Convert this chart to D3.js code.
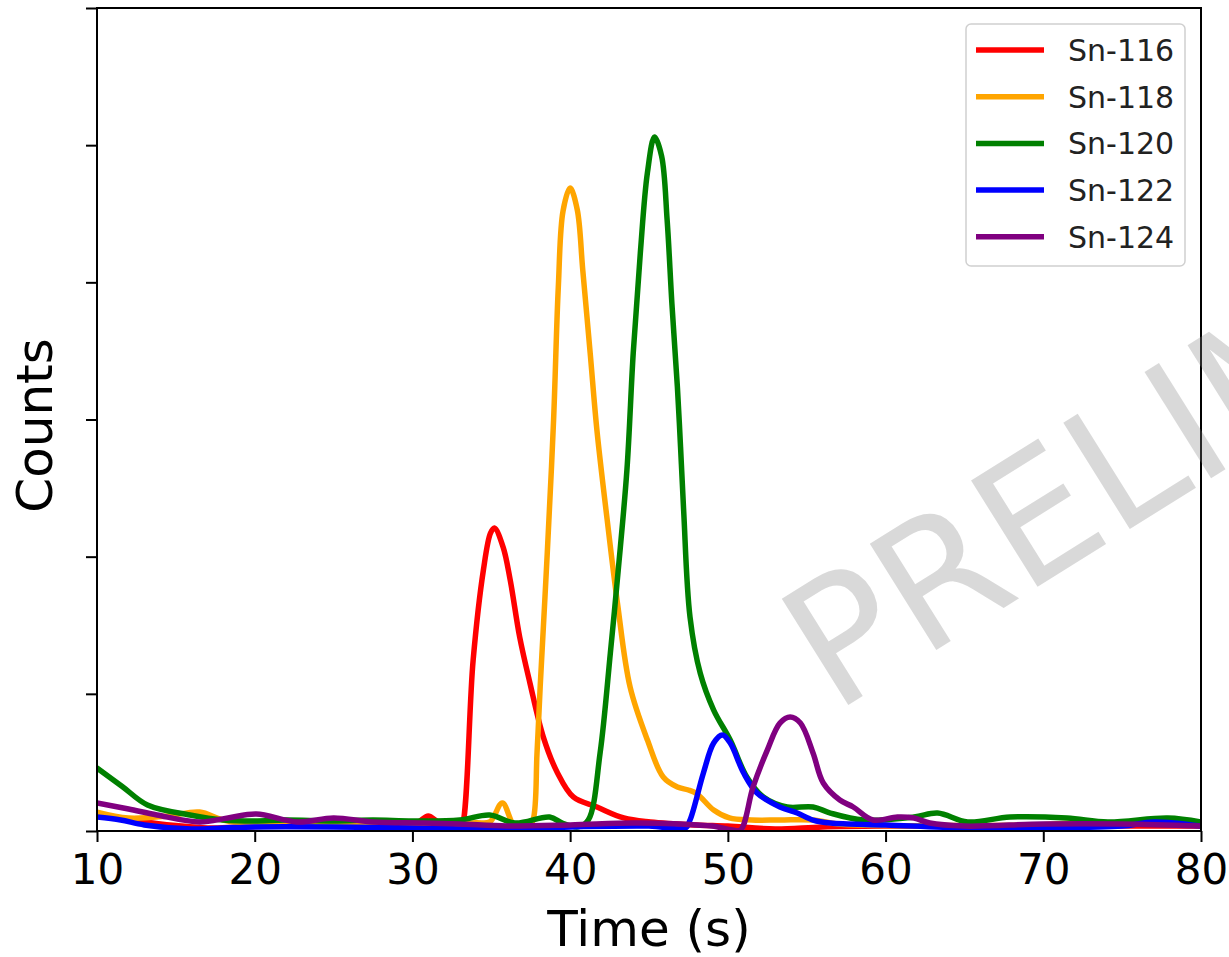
<!DOCTYPE html>
<html>
<head>
<meta charset="utf-8">
<script src="https://cdn.jsdelivr.net/npm/d3@7"></script>
<style>
  body { margin: 0; background: #fff; }
  svg { display: block; font-family: "DejaVu Sans", sans-serif; }
</style>
</head>
<body>
<svg id="chart" width="1229" height="957"></svg>
<script>
// counts vs time (s); y has no tick labels
const sn116 = [[10,117],[11.5,95],[13,66],[15,40],[17,22],[19,30],[21,36],[23,36],[25,36],[27,36],[29,40],[30.3,60],[31,110],[31.7,60],[32.5,30],[33,15],[33.15,30],[33.85,1247],[34.5,1903],[34.95,2172],[35.2,2209],[35.75,2070],[36.2,1830],[36.8,1414],[37.45,1079],[38.3,685],[39.2,423],[40.2,248],[41.7,175],[43.4,95],[45.1,66],[48,44],[50,36],[53,15],[56,30],[60,36],[65,36],[70,36],[75,36],[80,36]];
const sn118 = [[10,138],[12,95],[14.5,110],[16.5,138],[18,80],[20,50],[23,40],[26,40],[29,40],[32,45],[34,60],[34.9,66],[35.7,204],[36.5,30],[37.3,15],[37.65,80],[37.9,569],[38.1,1050],[38.55,2027],[38.95,2996],[39.25,3966],[39.55,4520],[40.0,4687],[40.45,4530],[40.8,4090],[41.27,3485],[41.7,2920],[42.35,2267],[43.0,1662],[43.8,1050],[44.9,663],[45.9,394],[46.8,321],[47.5,299],[48.05,270],[49.1,153],[50.1,95],[51.5,80],[53.3,80],[55.4,80],[57,51],[60,40],[65,40],[70,45],[72,58],[74,40],[76.5,73],[78,66],[80,45]];
const sn120 = [[10,459],[11.6,325],[13.2,190],[15.9,117],[18,80],[20,73],[22,80],[25,73],[27.5,80],[30,73],[33,80],[34.9,117],[36.5,58],[38.7,102],[39.5,58],[40.5,30],[41.15,80],[41.9,569],[42.55,1298],[43.05,1903],[43.6,2632],[44.0,3485],[44.45,4214],[44.9,4800],[45.35,5059],[45.8,4920],[46.15,4454],[46.45,3849],[46.8,3237],[47.0,2800],[47.2,2330],[47.6,1560],[48.25,1150],[49.1,882],[50.15,663],[51.2,394],[52.25,248],[53.75,175],[55.4,175],[56.5,131],[58.6,80],[61.8,102],[63.3,131],[65.2,66],[67.9,102],[71.5,95],[74.1,66],[77.9,95],[80,66]];
const sn122 = [[10,102],[11.5,80],[13,44],[16,15],[18,22],[20,30],[25,30],[30,22],[35,15],[40,30],[45,36],[47.3,22],[47.6,80],[48.45,423],[49.1,641],[49.65,700],[50.15,641],[51.0,423],[51.85,277],[53.3,175],[54.4,131],[55.4,80],[56.5,58],[60,44],[65,22],[70,22],[75,36],[77,66],[80,36]];
const sn124 = [[10,204],[12,160],[13.8,117],[16.5,66],[18.3,95],[20.1,124],[22.7,66],[25.0,95],[27.5,66],[30.7,58],[33,51],[36,36],[40,44],[44,58],[47,51],[49,36],[50.3,7],[50.8,7],[51.6,321],[52.5,590],[53.3,787],[53.95,831],[54.6,787],[55.4,569],[56.05,350],[57.1,226],[57.95,175],[59.2,80],[60.75,102],[61.8,95],[62.8,58],[65,36],[70,51],[75,51],[80,36]];

const seriesNames = ["Sn-116", "Sn-118", "Sn-120", "Sn-122", "Sn-124"];
const seriesColors = ["red", "orange", "green", "blue", "purple"];
const seriesData = [sn116, sn118, sn120, sn122, sn124];
const xTicks = [10, 20, 30, 40, 50, 60, 70, 80];
const yTicks = [0, 1000, 2000, 3000, 4000, 5000, 6000];

const svg = d3.select("#chart");
const margin = { top: 8, right: 28, bottom: 126, left: 97 };
const W = 1229, H = 957;

const x = d3.scaleLinear().domain([10, 80]).range([margin.left, W - margin.right]);
const y = d3.scaleLinear().domain([0, 6000]).range([H - margin.bottom, margin.top]);

svg.append("defs").append("clipPath").attr("id", "plot-area")
	.append("rect")
	.attr("x", margin.left).attr("y", margin.top)
	.attr("width", W - margin.left - margin.right)
	.attr("height", H - margin.top - margin.bottom);

const line = d3.line()
	.x(d => x(d[0]))
	.y(d => y(d[1]))
	.curve(d3.curveCatmullRom.alpha(0.5));

const lines = svg.append("g").attr("clip-path", "url(#plot-area)");
seriesData.forEach((data, i) => {
	lines.append("path")
		.datum(data)
		.attr("fill", "none")
		.attr("stroke", seriesColors[i])
		.attr("stroke-width", 5.5)
		.attr("stroke-linejoin", "round")
		.attr("stroke-linecap", "round")
		.attr("d", line);
});

// axes
const xAxis = svg.append("g")
	.attr("transform", `translate(0,${H - margin.bottom})`)
	.call(d3.axisBottom(x).tickValues(xTicks).tickSize(11).tickPadding(12));
xAxis.select(".domain").remove();
xAxis.selectAll("line").attr("stroke", "#000").attr("stroke-width", 2);
xAxis.selectAll("text").attr("font-size", 42).attr("fill", "#000")
	.attr("font-family", "DejaVu Sans");

const yAxis = svg.append("g")
	.attr("transform", `translate(${margin.left},0)`)
	.call(d3.axisLeft(y).tickValues(yTicks).tickSize(11).tickFormat(""));
yAxis.select(".domain").remove();
yAxis.selectAll("line").attr("stroke", "#000").attr("stroke-width", 2);

// frame
svg.append("rect")
	.attr("x", margin.left).attr("y", margin.top)
	.attr("width", W - margin.left - margin.right)
	.attr("height", H - margin.top - margin.bottom)
	.attr("fill", "none").attr("stroke", "#000").attr("stroke-width", 2);

svg.append("text")
	.attr("x", (margin.left + W - margin.right) / 2).attr("y", 946)
	.attr("text-anchor", "middle").attr("font-size", 50)
	.text("Time (s)");

svg.append("text")
	.attr("transform", `translate(52,${(margin.top + H - margin.bottom) / 2 + 6}) rotate(-90)`)
	.attr("text-anchor", "middle").attr("font-size", 50)
	.text("Counts");

// legend
const legend = svg.append("g").attr("transform", "translate(966,24)");
legend.append("rect")
	.attr("width", 219).attr("height", 242).attr("rx", 5)
	.attr("fill", "#fff").attr("fill-opacity", 0.8)
	.attr("stroke", "#d0d0d0").attr("stroke-width", 1.5);
seriesNames.forEach((name, i) => {
	const row = legend.append("g").attr("transform", `translate(0,${26 + i * 46.7})`);
	row.append("line")
		.attr("x1", 10).attr("x2", 78)
		.attr("stroke", seriesColors[i]).attr("stroke-width", 5.5);
	row.append("text")
		.attr("x", 102).attr("dy", "0.36em")
		.attr("font-size", 30).attr("fill", "#222")
		.text(name);
});

// watermark
svg.append("text")
	.attr("transform", "translate(834,714) rotate(-32)")
	.attr("font-size", 172).attr("fill", "gray").attr("fill-opacity", 0.3)
	.text("PRELIMINARY");
</script>
</body>
</html>
